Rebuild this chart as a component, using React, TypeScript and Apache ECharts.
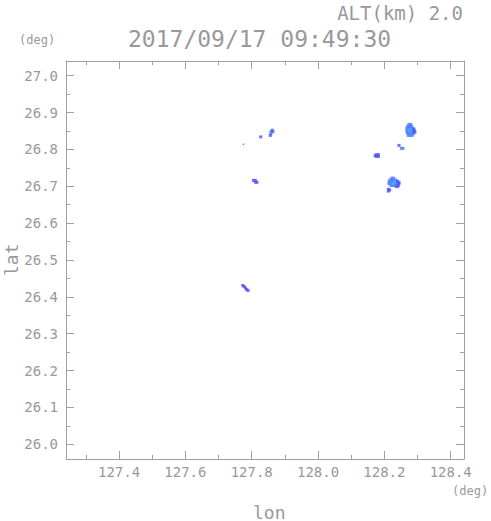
import React, { useEffect, useRef } from "react";
import * as echarts from "echarts";

const titleText = "2017/09/17 09:49:30";
const altText = "ALT(km) 2.0";
const xMajor = [127.4, 127.6, 127.8, 128.0, 128.2, 128.4];
const xMinor = [127.3, 127.5, 127.7, 127.9, 128.1, 128.3];
const yMajor = [26.0, 26.1, 26.2, 26.3, 26.4, 26.5, 26.6, 26.7, 26.8, 26.9, 27.0];
const yMinor = [26.05, 26.15, 26.25, 26.35, 26.45, 26.55, 26.65, 26.75, 26.85, 26.95];

const mediumPts: number[][] = [
  [128.274, 26.868], [128.28, 26.868],
  [128.27, 26.863], [128.276, 26.863], [128.282, 26.863],
  [128.268, 26.858], [128.274, 26.858], [128.28, 26.858], [128.286, 26.858],
  [128.268, 26.853], [128.286, 26.853],
  [128.268, 26.848], [128.274, 26.848], [128.28, 26.848], [128.286, 26.848],
  [128.27, 26.843], [128.276, 26.843], [128.282, 26.843], [128.288, 26.843],
  [128.272, 26.838], [128.278, 26.838], [128.284, 26.838],
  [128.222, 26.722], [128.228, 26.722],
  [128.216, 26.717], [128.222, 26.717], [128.228, 26.717], [128.234, 26.717],
  [128.214, 26.712], [128.22, 26.712], [128.226, 26.712], [128.238, 26.712],
  [128.214, 26.707], [128.22, 26.707], [128.232, 26.707], [128.238, 26.707], [128.244, 26.707],
  [128.22, 26.702], [128.226, 26.702], [128.232, 26.702],
  [128.251, 26.803], [128.256, 26.803],
  [127.858, 26.848], [127.864, 26.848], [127.858, 26.843],
];
const lightPts: number[][] = [
  [128.274, 26.853], [128.28, 26.853], [128.277, 26.848],
  [128.226, 26.707], [128.232, 26.712],
];
const darkPts: number[][] = [
  [128.29, 26.85], [128.292, 26.847], [128.289, 26.855],
  [128.24, 26.714], [128.244, 26.71], [128.242, 26.704], [128.236, 26.699], [128.241, 26.7],
  [128.212, 26.692], [128.216, 26.69], [128.212, 26.687],
  [128.176, 26.786], [128.182, 26.786], [128.176, 26.781], [128.182, 26.781], [128.172, 26.783],
  [128.244, 26.811],
  [127.856, 26.838], [127.862, 26.852],
  [127.827, 26.834],
  [127.805, 26.716], [127.811, 26.716], [127.811, 26.711], [127.816, 26.711],
  [127.773, 26.431], [127.777, 26.428], [127.781, 26.424], [127.785, 26.42], [127.789, 26.417],
];
const tinyPts: number[][] = [[127.775, 26.814]];

const gray = "#999999";
const lineGray = "#a0a0a0";
const font = "DejaVu Sans Mono";

export default function App() {
  const ref = useRef<HTMLDivElement>(null);
  useEffect(() => {
    document.body.style.margin = "0";
    const chart = echarts.init(ref.current!, null, { renderer: "svg" });
    const baseX = { type: "value", min: 127.24, max: 128.44, splitLine: { show: false } };
    const baseY = { type: "value", min: 25.96, max: 27.04, splitLine: { show: false } };
    const tickAxis = (base: any, pos: string, vals: number[], len: number, labels: boolean, line: boolean, isX: boolean) => ({
      ...base,
      position: pos,
      axisLine: { show: line, onZero: false, lineStyle: { color: lineGray, width: 1 } },
      axisTick: { show: true, inside: true, length: len, customValues: vals, lineStyle: { color: lineGray } },
      axisLabel: labels
        ? {
            show: true,
            customValues: vals,
            color: gray,
            fontFamily: font,
            fontSize: 14,
            margin: isX ? 6 : 8,
            formatter: (v: number) => v.toFixed(1),
          }
        : { show: false },
    });
    const scatter = (data: number[][], color: string, size: number) => ({
      type: "scatter",
      xAxisIndex: 0,
      yAxisIndex: 0,
      symbol: "rect",
      symbolSize: size,
      data,
      itemStyle: { color },
      silent: true,
    });
    chart.setOption({
      animation: false,
      grid: { left: 66, top: 61, width: 398, height: 398 },
      xAxis: [
        tickAxis(baseX, "bottom", xMajor, 8, true, true, true),
        tickAxis(baseX, "bottom", xMinor, 4, false, false, true),
        tickAxis(baseX, "top", xMajor, 8, false, true, true),
        tickAxis(baseX, "top", xMinor, 4, false, false, true),
      ],
      yAxis: [
        tickAxis(baseY, "left", yMajor, 8, true, true, false),
        tickAxis(baseY, "left", yMinor, 4, false, false, false),
        tickAxis(baseY, "right", yMajor, 8, false, true, false),
        tickAxis(baseY, "right", yMinor, 4, false, false, false),
      ],
      series: [
        scatter(mediumPts, "#4c7dff", 3),
        scatter(lightPts, "#3fa8ff", 3),
        scatter(darkPts, "#5050f5", 3),
        scatter(tinyPts, "#5050f5", 1.5),
      ],
      graphic: [
        { type: "text", right: 28, top: 3, style: { text: altText, fontFamily: font, fontSize: 19, fill: gray } },
        { type: "text", left: 128, top: 27, style: { text: titleText, fontFamily: font, fontSize: 23, fill: gray } },
        { type: "text", left: 19, top: 34, style: { text: "(deg)", fontFamily: font, fontSize: 12, fill: gray } },
        { type: "text", left: 452, top: 485, style: { text: "(deg)", fontFamily: font, fontSize: 12, fill: gray } },
        { type: "text", left: 253, top: 503, style: { text: "lon", fontFamily: font, fontSize: 18, fill: gray } },
        {
          type: "text",
          x: 2,
          y: 276,
          rotation: Math.PI / 2,
          style: { text: "lat", fontFamily: font, fontSize: 18, fill: gray },
        },
      ],
    });
    return () => chart.dispose();
  }, []);
  return <div ref={ref} style={{ width: 491, height: 521 }} />;
}
